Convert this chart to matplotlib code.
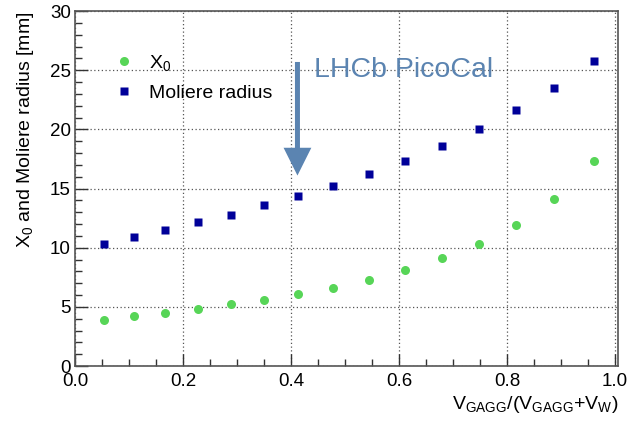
import matplotlib
matplotlib.use("Agg")
import matplotlib.pyplot as plt
from matplotlib.ticker import MultipleLocator

plt.rcParams['font.family'] = ['Liberation Sans', 'DejaVu Sans']
plt.rcParams['mathtext.fontset'] = 'custom'
plt.rcParams['mathtext.rm'] = 'Liberation Sans'
plt.rcParams['mathtext.it'] = 'Liberation Sans'

# volume fraction of GAGG
frac = [0.054, 0.109, 0.167, 0.228, 0.289, 0.350, 0.413, 0.478, 0.544,
        0.611, 0.680, 0.748, 0.817, 0.887, 0.961]
x0 = [3.9, 4.2, 4.5, 4.8, 5.2, 5.6, 6.1, 6.6, 7.3, 8.1, 9.1, 10.3, 11.9, 14.1, 17.3]
moliere = [10.3, 10.9, 11.5, 12.2, 12.8, 13.6, 14.4, 15.2, 16.2, 17.3, 18.6,
           20.0, 21.6, 23.5, 25.8]

green = '#57d557'
navy = '#000099'
arrow_col = '#5b84b1'

fig = plt.figure(figsize=(6.28, 4.22), dpi=100)
ax = fig.add_axes([0.1194, 0.1327, 0.865, 0.841])

ax.plot(frac, x0, 'o', color=green, ms=6.5, mec='none', label=r'X$_0$', zorder=3)
ax.plot(frac, moliere, 's', color=navy, ms=6.2, mec='none', label='Moliere radius', zorder=3)

ax.set_xlim(0, 1.006)
ax.set_ylim(0, 30)
ax.xaxis.set_major_locator(MultipleLocator(0.2))
ax.xaxis.set_minor_locator(MultipleLocator(0.05))
ax.yaxis.set_major_locator(MultipleLocator(5))
ax.yaxis.set_minor_locator(MultipleLocator(1))
ax.set_xticks([0, 0.2, 0.4, 0.6, 0.8, 1.0])
ax.set_xticklabels(['0.0', '0.2', '0.4', '0.6', '0.8', '1.0'])

ax.tick_params(which='both', direction='in', top=False, right=False,
               labelsize=13.5, color='#333333')
ax.tick_params(which='major', length=9, width=1)
ax.tick_params(which='minor', length=5, width=1)
ax.tick_params(axis='x', pad=5)
ax.tick_params(axis='y', pad=3)

for s in ax.spines.values():
    s.set_color('#555555')
    s.set_linewidth(1.2)

ax.grid(True, which='major', linestyle=(0, (1, 2)), color='#555555', linewidth=0.9)
ax.set_axisbelow(True)

ax.set_xlabel(r'V$_{\mathrm{GAGG}}$/(V$_{\mathrm{GAGG}}$+V$_{\mathrm{W}}$)',
              fontsize=14, loc='right', labelpad=3)
ax.set_ylabel(r'X$_0$ and Moliere radius [mm]', fontsize=14, loc='top', labelpad=10)

leg = ax.legend(loc='upper left', bbox_to_anchor=(0.055, 0.905), frameon=False,
                fontsize=14, handletextpad=0.65, labelspacing=0.6,
                handlelength=1.2, borderaxespad=0)

ax.annotate('', xy=(0.412, 16.1), xytext=(0.412, 25.7),
            arrowprops=dict(arrowstyle='simple,head_length=1.0,head_width=1.0,tail_width=0.18',
                            color=arrow_col, lw=0, mutation_scale=20,
                            shrinkA=0, shrinkB=0), zorder=4)
ax.text(0.443, 25.0, 'LHCb PicoCal', color=arrow_col, fontsize=20.5,
        ha='left', va='center', zorder=4)

fig.savefig('out.png', dpi=100)
